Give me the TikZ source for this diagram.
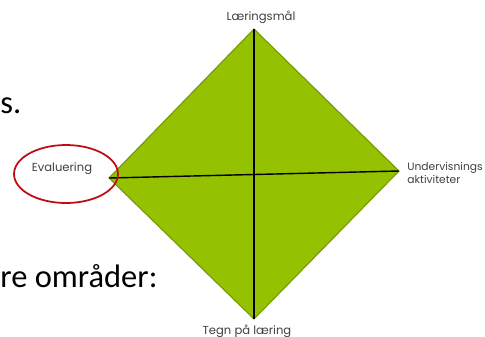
\documentclass[tikz,border=0pt]{standalone}
\usepackage{fontspec}
\setmainfont{Carlito}
\newfontfamily\labelfont{Poppins}
\usetikzlibrary{shapes.geometric}
\definecolor{kitegreen}{RGB}{148,193,0}
\definecolor{kiteedge}{RGB}{118,150,10}
\definecolor{ringred}{RGB}{192,10,20}
\definecolor{labelgrey}{RGB}{64,64,64}
\tikzset{
  cornerlabel/.style={text=labelgrey, font=\labelfont\fontsize{6.6}{8}\selectfont, inner sep=0pt, align=left},
  slidetext/.style={font=\fontsize{18.5}{22}\selectfont, inner sep=0pt, anchor=base west}
}
\begin{document}
\begin{tikzpicture}[x=0.02cm, y=-0.02cm]
	\useasboundingbox (0,0) rectangle (485,336);
	% Slide text behind the figure
	\node[slidetext] (restA) at (0,113) {s.};
	\node[slidetext] (restB) at (0,287) {re områder:};
	
	% Corners of the kite
	\foreach \name/\x/\y in {top/254/29, right/399/171, bottom/254/319, left/109/178} {
		\coordinate (\name) at (\x,\y);
	}
	\fill[kitegreen, draw=kiteedge, line width=0.6pt] (top) -- (right) -- (bottom) -- (left) -- cycle;
	
	% Cross
	\draw[line width=0.8pt] (top) -- (bottom);
	\draw[line width=0.8pt] (left) -- (right);
	
	% Labels
	\node[cornerlabel] (maal) at (261,17) {Læringsmål};
	\node[cornerlabel, anchor=west, font=\labelfont\fontsize{6.1}{7.6}\selectfont] (aktiv) at (407,173) {Undervisnings\\aktiviteter};
	\node[cornerlabel] (tegn) at (247,331) {Tegn på læring};
	\node[cornerlabel] (eval) at (62,169) {Evaluering};
	
	% Ring round Evaluering
	\node[ellipse, draw=ringred, line width=1pt, minimum width=2.08cm, minimum height=1.16cm] (ring) at (66,174) {};
\end{tikzpicture}
\end{document}
